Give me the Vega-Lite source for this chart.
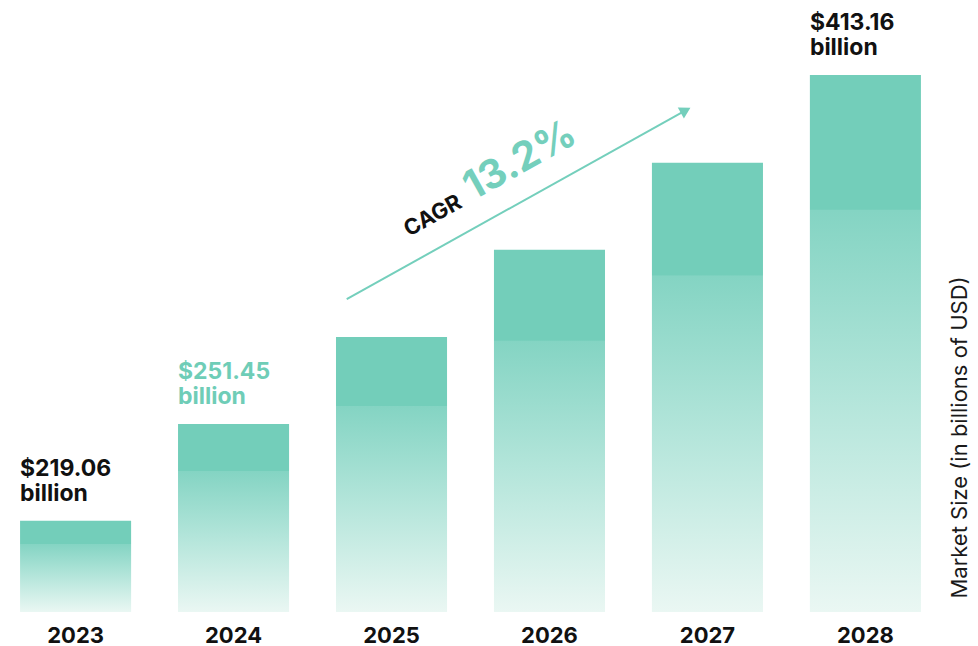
{
  "$schema": "https://vega.github.io/schema/vega-lite/v6.json",
  "width": 941,
  "height": 612,
  "autosize": {"type": "none"},
  "padding": {"left": 0, "top": 0, "right": 37, "bottom": 34},
  "background": "#ffffff",
  "config": {"view": {"stroke": null}, "font": "Inter"},
  "layer": [
    {
      "data": {
        "values": [
          {"year": "2023", "size": 219.06, "label": "$219.06\nbillion"},
          {"year": "2024", "size": 251.45, "label": "$251.45\nbillion"},
          {"year": "2025", "size": 284.6, "label": ""},
          {"year": "2026", "size": 322.2, "label": ""},
          {"year": "2027", "size": 364.7, "label": ""},
          {"year": "2028", "size": 413.16, "label": "$413.16\nbillion"}
        ]
      },
      "layer": [
        {
          "mark": {
            "type": "bar",
            "color": {
              "gradient": "linear",
              "x1": 0, "y1": 0, "x2": 0, "y2": 1,
              "stops": [
                {"offset": 0, "color": "#73CEBA"},
                {"offset": 0.25, "color": "#73CEBA"},
                {"offset": 0.252, "color": "#84D4C3"},
                {"offset": 0.6, "color": "#B3E5DA"},
                {"offset": 1, "color": "#EAF7F3"}
              ]
            }
          },
          "encoding": {
            "x": {
              "field": "year", "type": "ordinal",
              "scale": {"paddingInner": 0.297, "paddingOuter": 0.127},
              "axis": {
                "title": null, "domain": false, "ticks": false, "tickSize": 0,
                "labelAngle": 0, "labelFont": "Inter", "labelFontSize": 22,
                "labelFontWeight": "bold", "labelColor": "#111111",
                "labelBaseline": "alphabetic", "labelPadding": 30
              }
            },
            "y": {
              "field": "size", "type": "quantitative",
              "scale": {"type": "log", "domain": [192.4, 459.7], "nice": false, "zero": false},
              "axis": {
                "orient": "right", "labels": false, "ticks": false, "domain": false, "grid": false,
                "title": "Market Size (in billions of USD)",
                "titleFont": "Inter", "titleFontSize": 22, "titleFontWeight": "normal",
                "titleColor": "#1a1a1a", "titleAngle": 270,
                "titleX": 18, "titleY": 437, "titleAlign": "center", "titleBaseline": "middle"
              }
            },
            "y2": {"datum": 192.4}
          }
        },
        {
          "transform": [{"filter": "datum.label !== ''"}],
          "mark": {
            "type": "text", "align": "left", "baseline": "alphabetic",
            "lineBreak": "\n", "lineHeight": 25, "dy": -45,
            "font": "Inter", "fontSize": 23, "fontWeight": "bold"
          },
          "encoding": {
            "x": {"field": "year", "type": "ordinal", "bandPosition": 0},
            "y": {"field": "size", "type": "quantitative"},
            "text": {"field": "label"},
            "color": {
              "condition": {"test": "datum.year === '2024'", "value": "#6FCDB7"},
              "value": "#111111"
            }
          }
        }
      ]
    },
    {
      "data": {
        "values": [
          {"part": "arrow", "t": 2024.7165, "v": 300.3},
          {"part": "arrow", "t": 2026.862, "v": 392.9},
          {"part": "head", "t": 2026.862, "v": 392.9},
          {"part": "cagr", "t": 2025.111, "v": 328.1, "txt": "CAGR"},
          {"part": "pct", "t": 2025.516, "v": 345.4, "txt": "13.2%"}
        ]
      },
      "encoding": {
        "x": {"field": "t", "type": "quantitative", "scale": {"domain": [2022.5217, 2028.4786], "nice": false, "zero": false}, "axis": null},
        "y": {"field": "v", "type": "quantitative", "scale": {"type": "log", "domain": [192.4, 459.7], "nice": false, "zero": false}, "axis": null}
      },
      "layer": [
        {
          "transform": [{"filter": "datum.part === 'arrow'"}],
          "mark": {"type": "line", "color": "#74CFBC", "strokeWidth": 2}
        },
        {
          "transform": [{"filter": "datum.part === 'head'"}],
          "mark": {"type": "point", "shape": "triangle-up", "filled": true, "color": "#74CFBC", "opacity": 1, "size": 160, "angle": 60.9}
        },
        {
          "transform": [{"filter": "datum.part === 'cagr'"}],
          "mark": {"type": "text", "align": "left", "baseline": "alphabetic", "angle": 330.9, "font": "Inter", "fontSize": 22, "fontWeight": "bold", "color": "#111111"},
          "encoding": {"text": {"field": "txt"}}
        },
        {
          "transform": [{"filter": "datum.part === 'pct'"}],
          "mark": {"type": "text", "align": "left", "baseline": "alphabetic", "angle": 330.9, "font": "Inter", "fontSize": 40, "fontWeight": "bold", "color": "#74CFBC"},
          "encoding": {"text": {"field": "txt"}}
        }
      ]
    }
  ],
  "resolve": {"scale": {"x": "independent"}, "axis": {"y": "independent"}}
}
